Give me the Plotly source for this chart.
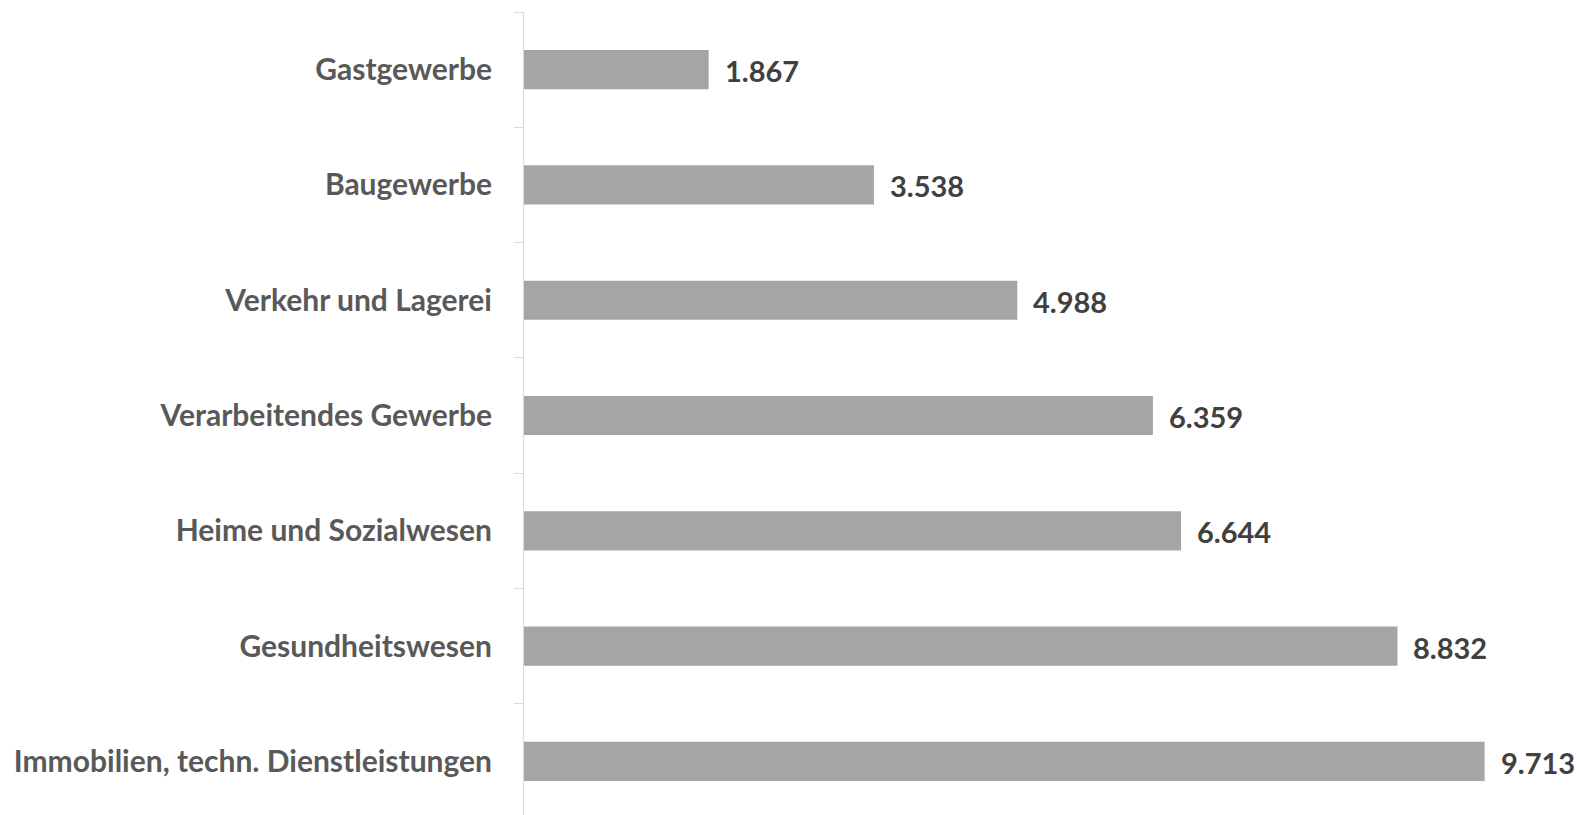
import plotly.graph_objects as go

categories = ["Gastgewerbe", "Baugewerbe", "Verkehr und Lagerei", "Verarbeitendes Gewerbe",
              "Heime und Sozialwesen", "Gesundheitswesen", "Immobilien, techn. Dienstleistungen"]
values = [1867, 3538, 4988, 6359, 6644, 8832, 9713]

def fmt(v):
    return f"{v:,}".replace(",", ".")

FONT = "Lato"
fig = go.Figure(go.Bar(
    x=values, y=categories, orientation="h",
    marker=dict(color="#A5A5A5", line=dict(width=0)),
    hoverinfo="skip",
))
for c, v in zip(categories, values):
    fig.add_annotation(x=v, y=c, text=f"<b>{fmt(v)}</b>", showarrow=False,
                       xanchor="left", yanchor="middle", xshift=14, yshift=-1,
                       font=dict(family=FONT, size=29, color="#404040"))

fig.update_layout(
    width=1577, height=815,
    margin=dict(l=524, r=64, t=12, b=0),
    paper_bgcolor="white", plot_bgcolor="white",
    bargap=0.66, showlegend=False,
    xaxis=dict(range=[0, 10000], visible=False, showgrid=False, zeroline=False),
    yaxis=dict(
        type="category", categoryorder="array", categoryarray=categories,
        range=[6.465, -0.5],
        showline=True, linecolor="#D9D9D9", linewidth=1,
        ticks="outside", tickson="boundaries", ticklen=9, tickcolor="#D9D9D9",
        tickfont=dict(family=FONT, size=30, color="#595959"),
        tickvals=categories, ticktext=[f"<b>{c}</b>" for c in categories],
        ticklabelstandoff=25,
        showgrid=False, zeroline=False,
    ),
)
fig.write_html("out.html",
               config={"displayModeBar": False},
               post_script="document.body.style.margin='0';document.body.style.overflow='hidden';")
